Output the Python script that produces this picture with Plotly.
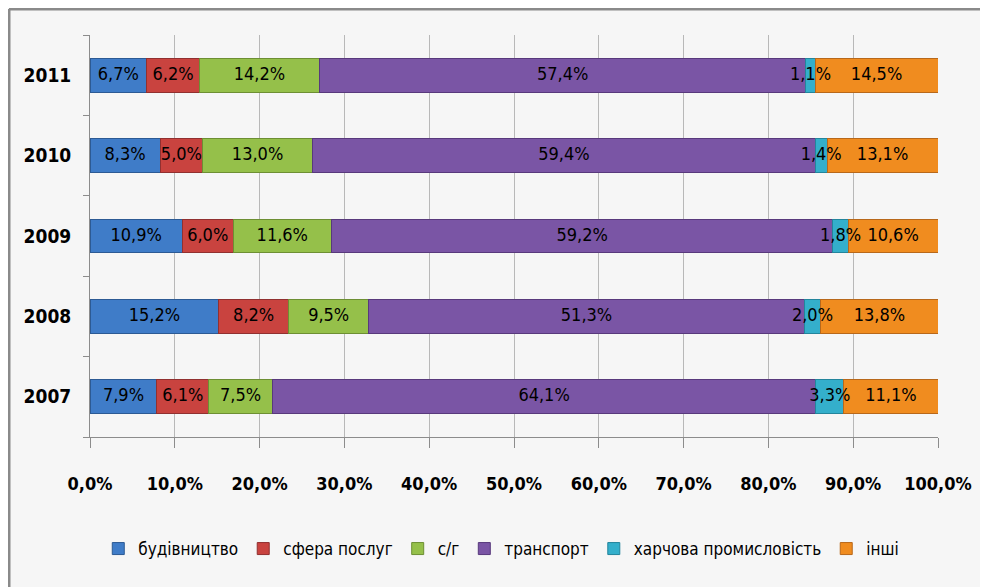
import plotly.graph_objects as go

years = ["2007", "2008", "2009", "2010", "2011"]
series_names = ["будівництво", "сфера послуг", "с/г", "транспорт", "харчова промисловість", "інші"]
budivnytstvo = [7.9, 15.2, 10.9, 8.3, 6.7]
sfera_posluh = [6.1, 8.2, 6.0, 5.0, 6.2]
sg = [7.5, 9.5, 11.6, 13.0, 14.2]
transport = [64.1, 51.3, 59.2, 59.4, 57.4]
kharchova = [3.3, 2.0, 1.8, 1.4, 1.1]
inshi = [11.1, 13.8, 10.6, 13.1, 14.5]
tick_vals = [0, 10, 20, 30, 40, 50, 60, 70, 80, 90, 100]
tick_labels = ["0,0%", "10,0%", "20,0%", "30,0%", "40,0%", "50,0%", "60,0%", "70,0%", "80,0%", "90,0%", "100,0%"]

values = [budivnytstvo, sfera_posluh, sg, transport, kharchova, inshi]
colors = ["#3f7cc8", "#c9433f", "#95c04a", "#7a55a5", "#34afcb", "#f08c1f"]
edges = ["#2c5a94", "#913030", "#6d8f33", "#58397c", "#23859c", "#b8681a"]

FONT = "DejaVu Sans Condensed, Liberation Sans Narrow, sans-serif"

fig = go.Figure()
for name, vals, c, e in zip(series_names, values, colors, edges):
    fig.add_trace(go.Bar(
        y=years, x=vals, name=name, orientation="h",
        marker=dict(color=c, line=dict(color=e, width=1)),
        hoverinfo="name+x",
    ))

# data labels drawn on top of all bars (centred in each normalised segment)
totals = [sum(v[i] for v in values) for i in range(len(years))]
lab_x, lab_y, lab_t = [], [], []
for i, yr in enumerate(years):
    cum = 0.0
    for vals in values:
        v = vals[i]
        lab_x.append((cum + v / 2) * 100 / totals[i])
        lab_y.append(yr)
        lab_t.append(f"{v:.1f}".replace(".", ",") + "%")
        cum += v
fig.add_trace(go.Scatter(
    x=lab_x, y=lab_y, text=lab_t, mode="text", showlegend=False,
    textposition="middle center", hoverinfo="skip", cliponaxis=False,
    textfont=dict(family=FONT, size=18, color="black"),
))

L, R, T, B = 82, 58, 27, 158
W, H = 988, 587
pw, ph = W - L - R, H - T - B

fig.update_layout(
    barmode="stack", barnorm="percent",
    width=W, height=H,
    margin=dict(l=L, r=R, t=T, b=B),
    paper_bgcolor="#f6f6f6", plot_bgcolor="#f6f6f6",
    bargap=0.58,
    font=dict(family=FONT, color="black"),
    legend=dict(orientation="h", x=0.485, xanchor="center", y=(ph - 541 + T) / ph, yanchor="middle",
                font=dict(family=FONT, size=17, color="black"),
                itemwidth=30, traceorder="normal", bgcolor="rgba(0,0,0,0)"),
    showlegend=True,
)
fig.update_xaxes(range=[0, 100], tickvals=tick_vals, ticktext=tick_labels,
                 showgrid=True, gridcolor="#b8b8b8", gridwidth=1,
                 showline=True, linecolor="#8c8c8c", ticks="outside", ticklen=10,
                 tickcolor="#8c8c8c", ticklabelstandoff=20,
                 tickfont=dict(family=FONT, size=18, color="black", weight="bold"),
                 zeroline=False)
fig.update_yaxes(showline=True, linecolor="#8c8c8c", ticks="outside", ticklen=6,
                 tickcolor="#8c8c8c", tickson="boundaries", ticklabelstandoff=14,
                 tickfont=dict(family=FONT, size=19, color="black", weight="bold"),
                 showgrid=False)
# chart frame: top and left edges
x_left = (1 - L) / pw
y_top = (ph + T - 1) / ph
y_bot = (T + ph - H) / ph
fig.add_shape(type="line", xref="paper", yref="paper", x0=x_left, x1=(W - L) / pw,
              y0=y_top, y1=y_top, line=dict(color="#8a8a8a", width=3))
fig.add_shape(type="line", xref="paper", yref="paper", x0=x_left, x1=x_left,
              y0=y_top, y1=y_bot, line=dict(color="#8a8a8a", width=3))
fig.write_html("out.html")
